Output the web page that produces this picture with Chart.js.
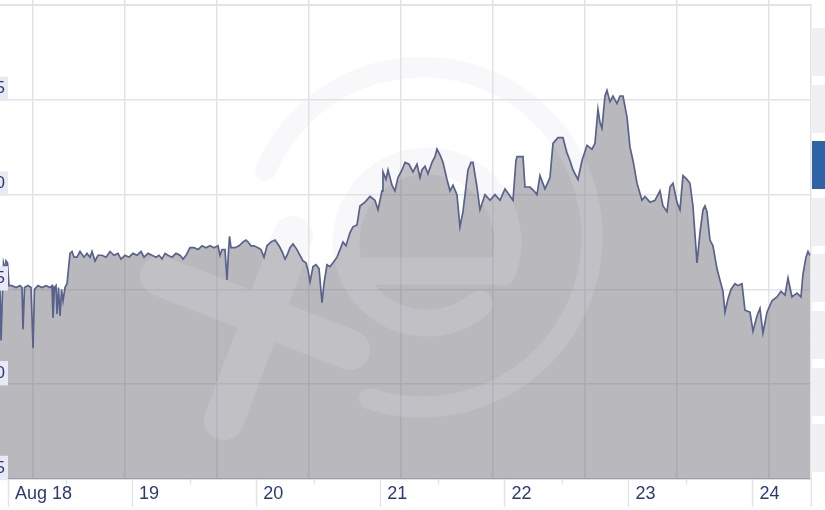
<!DOCTYPE html>
<html>
<head>
<meta charset="utf-8">
<title>Aug 18 - 24</title>
<script src="https://cdn.jsdelivr.net/npm/chart.js@4.4.0/dist/chart.umd.min.js"></script>
<style>
  html, body { margin: 0; padding: 0; background: #fff; overflow: hidden; }
  body { width: 825px; height: 510px; position: relative; }
  /* the chart is cropped on the left and top, like the screenshot */
  #wrap { position: absolute; left: -47px; top: -10px; width: 859px; height: 520px; }
  #side { position: absolute; left: 812px; top: 28px; width: 40px; }
  #side div { height: 48px; margin-bottom: 8.6px; background: #efeff4; }
  #side div.on { background: #2f62a6; }
</style>
</head>
<body>
<div id="wrap"><canvas id="chart"></canvas></div>
<div id="side"><div></div><div></div><div class="on"></div><div></div><div></div><div></div><div></div><div></div></div>
<script>
'use strict';

// day labels (ticks every 24h from Aug 18 00:00)
let dayLabels = ['Aug 18', '19', '20', '21', '22', '23', '24'];

// hours since Aug 18 00:00
let hours = [
  -1.55, -1.35, -1.06, -0.87, -0.58, -0.39, -0.10, 0.19, 0.77, 1.55,
  2.32, 2.71, 2.90, 3.19, 3.87, 4.45, 4.84, 5.12, 5.80, 6.58,
  7.35, 8.12, 8.51, 8.70, 8.99, 9.28, 9.48, 9.77, 10.06, 10.35,
  10.64, 11.02, 11.41, 11.99, 12.38, 12.76, 13.34, 13.92, 14.70, 15.28,
  15.86, 16.25, 16.83, 17.41, 18.18, 18.95, 19.73, 20.50, 21.27, 21.85,
  22.63, 23.40, 24.17, 24.95, 25.72, 26.30, 27.08, 27.85, 28.62, 29.20,
  29.78, 30.36, 30.94, 31.72, 32.49, 33.26, 33.85, 34.43, 35.20, 35.97,
  36.75, 37.52, 38.29, 39.07, 39.84, 40.61, 41.00, 41.39, 41.97, 42.35,
  42.64, 42.84, 43.13, 43.90, 44.68, 45.45, 46.03, 46.42, 46.99, 47.57,
  48.35, 48.93, 49.51, 50.09, 50.86, 51.64, 52.41, 52.99, 53.57, 53.96,
  54.54, 55.12, 55.89, 56.47, 57.05, 57.63, 58.02, 58.41, 58.99, 59.57,
  60.15, 60.73, 61.11, 61.69, 62.27, 62.85, 63.63, 64.21, 64.79, 65.37,
  66.14, 66.72, 67.49, 68.07, 69.04, 70.01, 70.97, 71.55, 72.33, 72.52,
  73.10, 73.49, 74.26, 74.84, 75.42, 76.20, 76.78, 77.55, 78.32, 79.10,
  79.68, 80.06, 80.64, 81.22, 82.00, 82.58, 82.96, 83.54, 84.12, 84.90,
  85.48, 86.06, 86.83, 87.41, 87.99, 88.96, 89.54, 89.93, 90.70, 91.28,
  92.25, 93.21, 94.18, 95.15, 96.11, 96.89, 97.66, 98.24, 98.44, 99.60,
  99.98, 100.95, 101.72, 102.30, 102.88, 103.85, 104.82, 105.40, 106.36, 107.33,
  108.10, 108.68, 109.27, 110.23, 111.01, 111.98, 112.94, 113.52, 114.10, 114.49,
  114.87, 115.45, 115.84, 116.42, 117.00, 117.78, 118.36, 118.94, 119.71, 120.29,
  120.87, 121.65, 122.61, 123.19, 124.16, 125.13, 126.09, 126.67, 127.45, 128.03,
  128.61, 129.38, 129.96, 130.54, 131.31, 131.89, 132.47, 133.25, 133.83, 134.41,
  134.79, 135.18, 135.76, 136.34, 137.11, 137.69, 138.27, 138.66, 139.24, 139.82,
  140.60, 141.18, 141.95, 142.53, 143.50, 144.08, 144.85, 145.43, 146.01, 146.79,
  147.75, 148.72, 149.49, 150.27, 150.85, 151.62, 152.59, 153.36, 153.75, 154.33,
  154.72, 155.10
];

let rates = [
  1.17650, 1.17623, 1.17650, 1.17664, 1.17661, 1.17665, 1.17664, 1.17652, 1.17652, 1.17651,
  1.17652, 1.17651, 1.17629, 1.17651, 1.17652, 1.17651, 1.17619, 1.17650, 1.17652, 1.17651,
  1.17652, 1.17651, 1.17652, 1.17635, 1.17651, 1.17652, 1.17637, 1.17651, 1.17636, 1.17650,
  1.17644, 1.17651, 1.17653, 1.17669, 1.17670, 1.17667, 1.17667, 1.17670, 1.17667, 1.17669,
  1.17667, 1.17670, 1.17665, 1.17668, 1.17668, 1.17667, 1.17670, 1.17668, 1.17669, 1.17666,
  1.17668, 1.17667, 1.17669, 1.17668, 1.17670, 1.17667, 1.17669, 1.17668, 1.17667, 1.17668,
  1.17666, 1.17669, 1.17668, 1.17667, 1.17669, 1.17668, 1.17666, 1.17668, 1.17672, 1.17672,
  1.17671, 1.17673, 1.17672, 1.17673, 1.17672, 1.17673, 1.17668, 1.17671, 1.17671, 1.17655,
  1.17670, 1.17678, 1.17672, 1.17672, 1.17673, 1.17675, 1.17676, 1.17675, 1.17673, 1.17673,
  1.17672, 1.17671, 1.17667, 1.17673, 1.17675, 1.17676, 1.17673, 1.17670, 1.17666, 1.17668,
  1.17672, 1.17674, 1.17671, 1.17668, 1.17665, 1.17664, 1.17660, 1.17654, 1.17662, 1.17663,
  1.17661, 1.17643, 1.17653, 1.17663, 1.17662, 1.17664, 1.17667, 1.17671, 1.17675, 1.17673,
  1.17680, 1.17683, 1.17684, 1.17694, 1.17696, 1.17699, 1.17697, 1.17692, 1.17702, 1.17712,
  1.17708, 1.17713, 1.17705, 1.17702, 1.17709, 1.17713, 1.17717, 1.17716, 1.17712, 1.17716,
  1.17709, 1.17713, 1.17715, 1.17711, 1.17717, 1.17720, 1.17724, 1.17721, 1.17717, 1.17708,
  1.17702, 1.17705, 1.17700, 1.17683, 1.17691, 1.17713, 1.17717, 1.17717, 1.17704, 1.17692,
  1.17700, 1.17697, 1.17700, 1.17697, 1.17703, 1.17700, 1.17697, 1.17718, 1.17720, 1.17720,
  1.17704, 1.17704, 1.17702, 1.17700, 1.17710, 1.17703, 1.17709, 1.17727, 1.17730, 1.17730,
  1.17722, 1.17718, 1.17713, 1.17708, 1.17718, 1.17726, 1.17724, 1.17727, 1.17745, 1.17738,
  1.17735, 1.17752, 1.17755, 1.17749, 1.17752, 1.17748, 1.17752, 1.17752, 1.17741, 1.17725,
  1.17718, 1.17706, 1.17697, 1.17699, 1.17696, 1.17697, 1.17702, 1.17694, 1.17691, 1.17704,
  1.17706, 1.17696, 1.17692, 1.17710, 1.17708, 1.17706, 1.17694, 1.17664, 1.17680, 1.17692,
  1.17694, 1.17691, 1.17676, 1.17673, 1.17661, 1.17655, 1.17649, 1.17638, 1.17645, 1.17650,
  1.17653, 1.17652, 1.17653, 1.17639, 1.17638, 1.17628, 1.17636, 1.17640, 1.17627, 1.17638,
  1.17644, 1.17646, 1.17649, 1.17647, 1.17656, 1.17646, 1.17648, 1.17646, 1.17658, 1.17667,
  1.17670, 1.17668
];

// axis ranges
const xMin = -10.64;
const xMax = 155.3;
const noonOffset = 11.3;   // short tick between the days
const yMin = 1.1755;
const yMax = 1.1780;
const yStep = 0.0005;
// vertical grid of the background (not tied to the day ticks)
const gridStart = 4.83;
const gridStep = 17.79;

const navy = '#2c3a74';
const gridColor = '#e3e3e6';

Chart.defaults.font.family = "'Liberation Sans', Arial, Helvetica, sans-serif";

// faint "xe" logo behind the line
const watermark = {
    id: 'watermark',
    beforeDatasetDraw(chart) {
        const { ctx, chartArea } = chart;
        ctx.save();
        ctx.beginPath();
        ctx.rect(chartArea.left, chartArea.top, chartArea.right - chartArea.left, chartArea.bottom - chartArea.top);
        ctx.clip();
        ctx.translate(47, 10);
        ctx.strokeStyle = 'rgba(218, 218, 232, 0.2)';
        ctx.lineCap = 'round';
        const rad = Math.PI / 180;

        ctx.lineWidth = 21;
        ctx.beginPath();
        ctx.arc(422, 237, 170, 203 * rad, 468 * rad);
        ctx.stroke();

        ctx.lineWidth = 27;
        ctx.beginPath();
        ctx.arc(427, 242, 81, 50 * rad, 382 * rad);
        ctx.moveTo(352, 271);
        ctx.lineTo(502, 271);
        ctx.stroke();

        ctx.lineWidth = 40;
        ctx.beginPath();
        ctx.moveTo(160, 276);
        ctx.lineTo(350, 350);
        ctx.moveTo(293, 236);
        ctx.lineTo(224, 420);
        ctx.stroke();
        ctx.restore();
    }
};

const canvasEl = document.getElementById('chart');

new Chart(canvasEl, {
    type: 'line',
    data: {
        datasets: [{
            label: 'rate',
            data: hours.map((h, i) => ({ x: h, y: rates[i] })),
            borderColor: '#58628c',
            borderWidth: 1.7,
            backgroundColor: 'rgba(108, 108, 118, 0.48)',
            fill: 'start',
            pointRadius: 0,
            tension: 0
        }]
    },
    options: {
        responsive: true,
        maintainAspectRatio: false,
        animation: false,
        layout: { padding: { left: 0, right: 1, top: 10, bottom: 0 } },
        plugins: {
            legend: { display: false },
            tooltip: { enabled: false }
        },
        scales: {
            x: {
                type: 'linear',
                min: xMin,
                max: xMax,
                afterBuildTicks: axis => {
                    let t = [];
                    dayLabels.forEach((d, i) => {
                        t.push({ value: i * 24 });
                        t.push({ value: i * 24 + noonOffset });
                    });
                    axis.ticks = t.filter(k => k.value <= xMax + 0.01);
                },
                afterFit: axis => { axis.height = 31; },
                ticks: {
                    autoSkip: false,
                    maxRotation: 0,
                    align: 'start',
                    labelOffset: 7,
                    padding: -24,
                    color: navy,
                    font: { size: 18 },
                    callback: v => (v % 24 === 0 ? dayLabels[v / 24] : '')
                },
                grid: {
                    drawOnChartArea: false,
                    tickLength: 28,
                    tickWidth: 1.5,
                    tickColor: '#e4e4e8',
                    tickBorderDash: c => (c.tick && c.tick.value % 24 !== 0 && c.tick.value < xMax - 0.01) ? [5, 60] : []
                },
                border: { display: true, color: '#c9cbe0', width: 1.5 }
            },
            x2: {
                type: 'linear',
                position: 'top',
                min: xMin,
                max: xMax,
                afterBuildTicks: axis => {
                    let t = [];
                    for (let v = gridStart; v < xMax; v += gridStep) t.push({ value: v });
                    axis.ticks = t;
                },
                afterFit: axis => { axis.height = 5; },
                ticks: { display: false },
                grid: { color: gridColor, lineWidth: 1.5, tickLength: 5, tickColor: gridColor },
                border: { display: true, color: gridColor, width: 2 }
            },
            y: {
                min: yMin,
                max: yMax,
                afterFit: axis => { axis.width = 0; },
                ticks: {
                    stepSize: yStep,
                    mirror: true,
                    padding: 0,
                    labelOffset: -11,
                    z: 1,
                    font: { size: 17 },
                    color: c => (c.tick.value > yMax - 1e-7 ? 'rgba(0,0,0,0)' : navy),
                    showLabelBackdrop: true,
                    backdropColor: c => (c.tick.value > yMax - 1e-7 ? 'rgba(0,0,0,0)' : '#e8e9f3'),
                    backdropPadding: { top: 2, bottom: 2, left: 3, right: 3 },
                    callback: v => v.toFixed(4)
                },
                grid: { color: gridColor, lineWidth: 1.5, drawTicks: false },
                border: { display: false }
            },
            y2: {
                position: 'right',
                afterFit: axis => { axis.width = 0; },
                ticks: { display: false },
                grid: { drawOnChartArea: false, drawTicks: false },
                border: { display: true, color: gridColor, width: 1.5 }
            }
        }
    },
    plugins: [watermark]
});
</script>
</body>
</html>
